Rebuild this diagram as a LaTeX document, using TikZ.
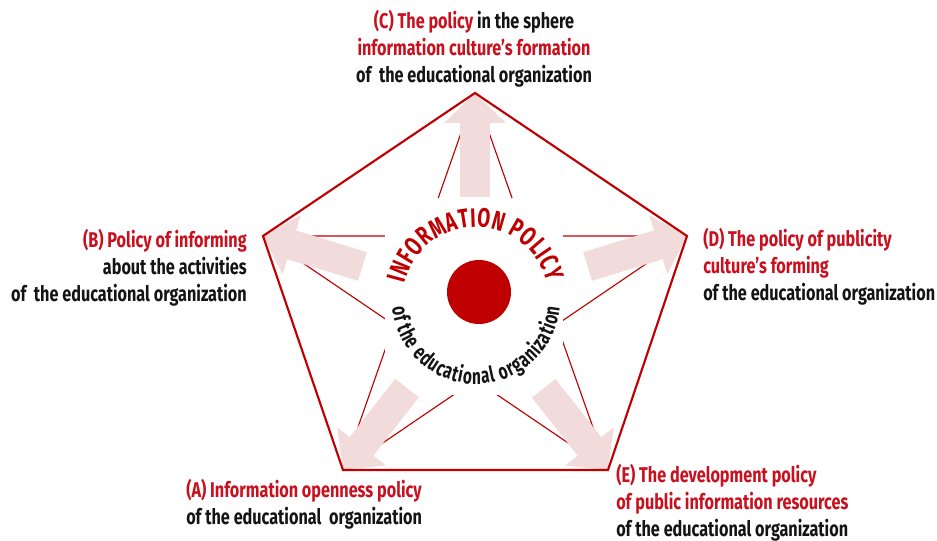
\documentclass[tikz,border=0pt]{standalone}
\usepackage{fontspec}
\setmainfont{Fira Sans}
\newfontfamily\condfont[FakeStretch=0.76]{Fira Sans}
\newfontfamily\ringfont[FakeStretch=0.70]{Fira Sans}
\usetikzlibrary{arrows.meta,calc,decorations.text}

\definecolor{policyred}{RGB}{192,0,0}
\definecolor{textred}{RGB}{200,16,30}
\definecolor{arrowpink}{RGB}{242,220,219}
\definecolor{inkblack}{RGB}{20,20,20}

\tikzset{
  rim/.style={draw=policyred, line width=1.6pt, line join=miter},
  starline/.style={draw=policyred, line width=0.85pt},
  bigarrow/.style={draw=arrowpink, line width=22.5pt,
    -{Triangle[width=45pt,length=22.5pt]}},
  hubdot/.style={circle, fill=policyred, inner sep=0pt, minimum size=48pt},
  lbltext/.style={font=\condfont\bfseries\fontsize{16}{20.2}\selectfont,
    inner sep=0pt, text=inkblack},
}

\begin{document}
\begin{tikzpicture}[x=0.75pt, y=0.75pt]
\path[use as bounding box, fill=white] (0,0) rectangle (937,540);

% corners of the pentagon and its centre
\coordinate (T)  at (475,447);
\coordinate (L)  at (263,304);
\coordinate (R)  at (687,304);
\coordinate (BL) at (343,70);
\coordinate (BR) at (608,70);
\coordinate (ctr) at (475,239);
\coordinate (arcctr) at (476,240);

% inner star
\draw[starline] (T) -- (BL) (T) -- (BR) (L) -- (R) (L) -- (BR) (R) -- (BL);

% white panel behind the emblem
\fill[white] (385,145) rectangle (563,342);

% broad arrows towards every corner
\foreach \v in {T,L,R,BL,BR} {
  \coordinate (tail-\v) at ($(\v)!78pt!(ctr)$);
  \draw[bigarrow] (tail-\v) -- (\v);
}

% pentagon outline
\draw[rim] (T) -- (R) -- (BR) -- (BL) -- (L) -- cycle;

% emblem
\node[hubdot] (hub) at (479,248) {};
\path[decorate, decoration={text along path, text align=fit to path,
    text={|\color{policyred}\ringfont\bfseries\fontsize{20}{22}\selectfont|INFORMATION POLICY}}]
  ($(arcctr)+(167:73)$) arc[start angle=167, end angle=14, radius=73];
\path[decorate, decoration={text along path, text align=fit to path,
    text={|\color{inkblack}\ringfont\bfseries\fontsize{16.5}{20}\selectfont|of the educational organization}}]
  ($(arcctr)+(185:84)$) arc[start angle=185, end angle=355, radius=84];

% captions
\node[lbltext, align=center] (labC) at (474,491)
  {\textcolor{textred}{(C) The policy} in the sphere\\
   \textcolor{textred}{information culture’s formation}\\
   of\ \ the educational organization};
\node[lbltext, align=right, anchor=east] (labB) at (247,272)
  {\textcolor{textred}{(B) Policy of informing}\\
   about the activities\\
   of\ \ the educational organization};
\node[lbltext, align=left, anchor=west] (labD) at (703,273)
  {\textcolor{textred}{(D) The policy of publicity}\\
   \textcolor{textred}{culture’s forming}\\
   of the educational organization};
\node[lbltext, align=left, anchor=west] (labA) at (186,35.5)
  {\textcolor{textred}{(A) Information openness policy}\\
   of the educational\ \ organization};
\node[lbltext, align=left, anchor=west] (labE) at (616,37)
  {\textcolor{textred}{(E) The development policy}\\
   \textcolor{textred}{of public information resources}\\
   of the educational organization};
\end{tikzpicture}
\end{document}
